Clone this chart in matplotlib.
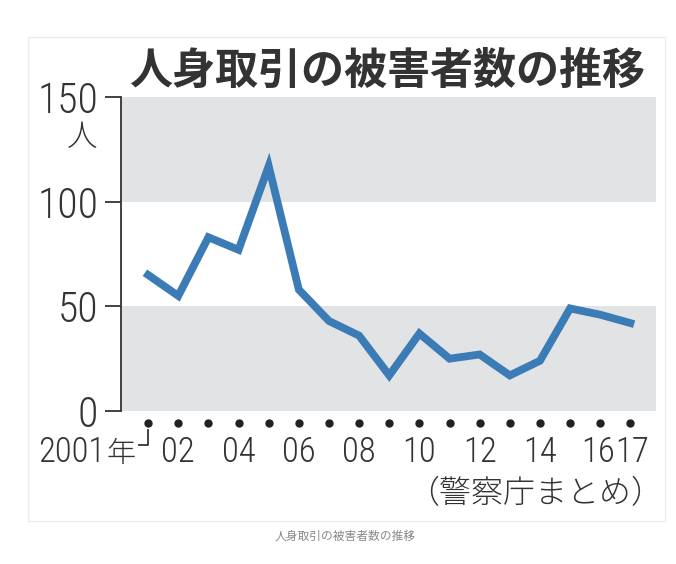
import matplotlib.pyplot as plt
import matplotlib.patches as patches
from matplotlib.lines import Line2D

years = list(range(2001, 2018))
victims = [65, 55, 83, 77, 117, 58, 43, 36, 17, 37, 25, 27, 17, 24, 49, 46, 42]

label_years = [2001, 2002, 2004, 2006, 2008, 2010, 2012, 2014, 2016, 2017]
label_texts = ['2001', '02', '04', '06', '08', '10', '12', '14', '16', '17']
year_unit = '年'

y_ticks = [0, 50, 100, 150]

title = '人身取引の被害者数の推移'
source = '（警察庁まとめ）'
caption = '人身取引の被害者数の推移'

num_font = ['Roboto Condensed', 'Noto Sans CJK JP', 'DejaVu Sans']
jp_font = ['Noto Sans CJK JP', 'DejaVu Sans']
ink = '#333333'

fig = plt.figure(figsize=(6.76, 5.64), dpi=100)
ax = fig.add_axes([121 / 676, 1 - 411 / 564, 535 / 676, 314 / 564])

# グレーの帯
ax.axhspan(0, 50, color='#e2e3e5', lw=0, zorder=0)
ax.axhspan(100, 150, color='#e2e3e5', lw=0, zorder=0)

ax.plot(years, victims, color='#3b7bb6', lw=5.6, solid_joinstyle='miter', zorder=3)

ax.set_xlim(2000.1, 2017.85)
ax.set_ylim(0, 150)

for s in ['top', 'right', 'bottom']:
    ax.spines[s].set_visible(False)
ax.spines['left'].set_color(ink)
ax.spines['left'].set_linewidth(1.3)

ax.set_xticks([])
ax.set_yticks(y_ticks)
ax.set_yticklabels([str(v) for v in y_ticks], family=num_font, fontweight=300,
                   fontsize=30, color=ink)
ax.tick_params(axis='y', length=11.5, width=1.3, color=ink, pad=5)

# 単位
ax.text(-24 / 535, 1 - 40 / 314, '人', transform=ax.transAxes, family=jp_font,
        fontweight=300, fontsize=22, color=ink, ha='right', va='center')

# 年の点
trans = ax.get_xaxis_transform()
ax.plot(years, [-0.038] * len(years), 'o', color='#222222', ms=5,
        transform=trans, clip_on=False)

# 年ラベル
for yr, lab in zip(label_years, label_texts):
    ha = 'center'
    x = yr
    if lab == '2001':
        ha = 'right'
        x = yr - 1.42
    elif lab == '16':
        ha = 'right'
        x = yr + 0.5
    elif lab == '17':
        ha = 'left'
        x = yr - 0.5
    ax.text(x, -0.1624, lab, transform=trans, family=num_font, fontweight=300,
            fontsize=25, color=ink, ha=ha, va='baseline')
ax.text(2001 - 0.4, -0.1624, year_unit, transform=trans, family=jp_font,
        fontweight=300, fontsize=21, color=ink, ha='right', va='baseline')

# 2001のかぎ
ax.add_line(Line2D([2001, 2001, 2000.7], [-0.0605, -0.108, -0.108],
                   transform=trans, color=ink, lw=1.3, clip_on=False))

fig.text(387 / 676, 1 - 71 / 564, title, family=jp_font, fontweight='bold',
         fontsize=31, color=ink, ha='center', va='center')
fig.text(663 / 676, 1 - 494 / 564, source, family=jp_font, fontweight=300,
         fontsize=23, color=ink, ha='right', va='center')
fig.text(345 / 676, 1 - 536 / 564, caption, family=jp_font, fontsize=8.5,
         color='#888888', ha='center', va='center')

fig.add_artist(patches.Rectangle((28 / 676, 1 - 521 / 564), 637 / 676, 484 / 564,
                                 transform=fig.transFigure, fill=False,
                                 edgecolor='#ececec', lw=1))

fig.savefig('out.png', dpi=100)
